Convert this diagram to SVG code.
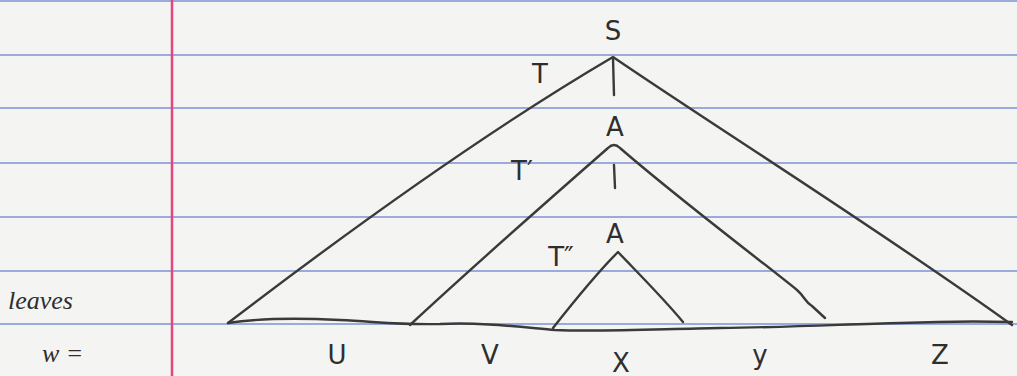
<svg xmlns="http://www.w3.org/2000/svg" width="1017" height="376" viewBox="0 0 1017 376">
<style>
.rule{stroke:#9aaadd;stroke-width:2}
.ink{fill:none;stroke:#3a3a3a;stroke-width:2.4;stroke-linecap:round;stroke-linejoin:round}
.lbl{font-family:"DejaVu Sans",sans-serif;fill:#2e2e2e;font-size:26px;text-anchor:middle}
.hand{font-family:"Liberation Serif",serif;font-style:italic;fill:#2e2e2e;font-size:26px}
</style>
<rect width="1017" height="376" fill="#f4f4f2"/>
<g id="paper">
<line class="rule" x1="0" y1="1" x2="1017" y2="1"/>
<line class="rule" x1="0" y1="55" x2="1017" y2="55"/>
<line class="rule" x1="0" y1="108" x2="1017" y2="108"/>
<line class="rule" x1="0" y1="163" x2="1017" y2="163"/>
<line class="rule" x1="0" y1="217" x2="1017" y2="217"/>
<line class="rule" x1="0" y1="271" x2="1017" y2="271"/>
<line class="rule" x1="0" y1="324" x2="1017" y2="324"/>
<line x1="172" y1="0" x2="172" y2="376" stroke="#e4467e" stroke-width="2.5"/>
</g>
<g id="connectors">
<path class="ink" d="M228,323 C330,245 480,135 613,57 C720,130 880,230 1012,325"/>
<path class="ink" d="M410,325 C480,260 560,190 608,148 C612,144 616,144 620,148 C680,200 760,260 797,290 C805,297 805,302 812,306 L825,318"/>
<path class="ink" d="M553,328 C575,300 600,270 618,252 C640,275 665,300 683,322"/>
<path class="ink" d="M228,323 C260,318 300,318 340,320 C380,322 400,325 440,324 C480,322 520,327 555,330 C600,332 660,329 720,328 C800,327 850,324 900,323 C950,321 980,321 1012,322"/>
<path class="ink" d="M613,58 L614,95"/>
<path class="ink" d="M614,165 L615,188"/>
</g>
<g id="node-S"><text class="lbl" x="613" y="40">S</text></g>
<g id="node-T"><text class="lbl" x="540" y="83">T</text></g>
<g id="node-A1"><text class="lbl" x="615" y="136">A</text></g>
<g id="node-T1"><text class="lbl" x="522" y="180">T′</text></g>
<g id="node-A2"><text class="lbl" x="615" y="243">A</text></g>
<g id="node-T2"><text class="lbl" x="561" y="266" font-size="20">T″</text></g>
<g id="label-leaves"><text class="hand" x="8" y="309" font-size="32">leaves</text></g>
<g id="label-w"><text class="hand" x="42" y="362" font-size="24">w =</text></g>
<g id="leaf-u"><text class="lbl" x="337" y="364">U</text></g>
<g id="leaf-v"><text class="lbl" x="490" y="364">V</text></g>
<g id="leaf-x"><text class="lbl" x="621" y="372">X</text></g>
<g id="leaf-y"><text class="lbl" x="760" y="364">y</text></g>
<g id="leaf-z"><text class="lbl" x="940" y="364">Z</text></g>
</svg>
